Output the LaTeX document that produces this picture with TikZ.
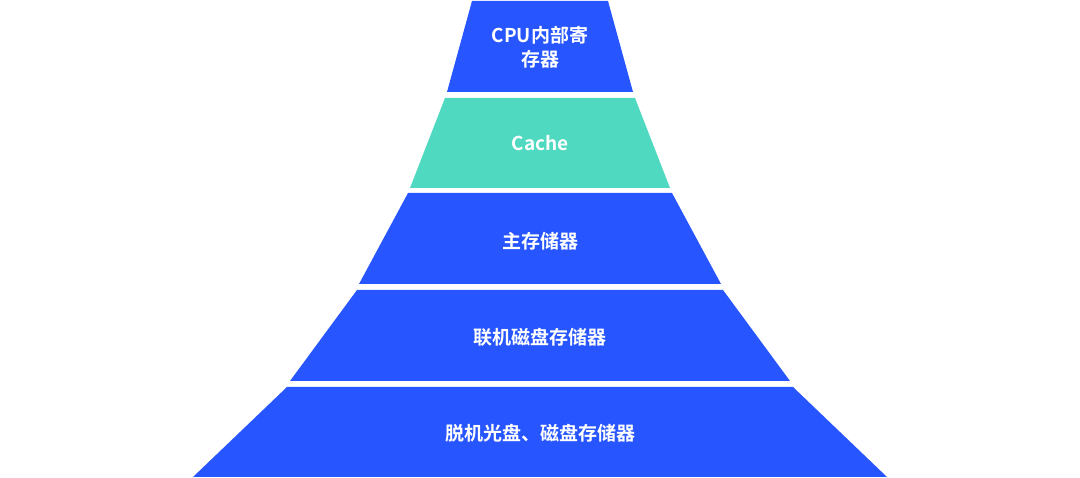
\documentclass[tikz,border=0pt]{standalone}
\usepackage{fontspec}
\setmainfont{Noto Sans CJK SC}[BoldFont={Noto Sans CJK SC Bold}]
\definecolor{lblue}{HTML}{2755FF}
\definecolor{lteal}{HTML}{4ED9C0}
\begin{document}
\begin{tikzpicture}[x=1pt,y=-1pt,
  lab/.style={text=white,font=\fontsize{19}{24}\selectfont\bfseries,align=center}]
\useasboundingbox (0,0) rectangle (1080,478);
\fill[lblue] (472,1) -- (608,1) -- (633,92) -- (447,92) -- cycle;
\fill[lteal] (445,98) -- (635,98) -- (670,188) -- (410,188) -- cycle;
\fill[lblue] (408,193) -- (672,193) -- (721,284) -- (359,284) -- cycle;
\fill[lblue] (357,290) -- (723,290) -- (790,381) -- (290,381) -- cycle;
\fill[lblue] (287,387) -- (793,387) -- (887,477) -- (193,477) -- cycle;
\node[lab] (l1) at (540,47) {CPU内部寄\\存器};
\node[lab] (l2) at (540,143) {Cache};
\node[lab] (l3) at (540,241) {主存储器};
\node[lab] (l4) at (540,337) {联机磁盘存储器};
\node[lab] (l5) at (540,433) {脱机光盘、磁盘存储器};
\end{tikzpicture}
\end{document}
